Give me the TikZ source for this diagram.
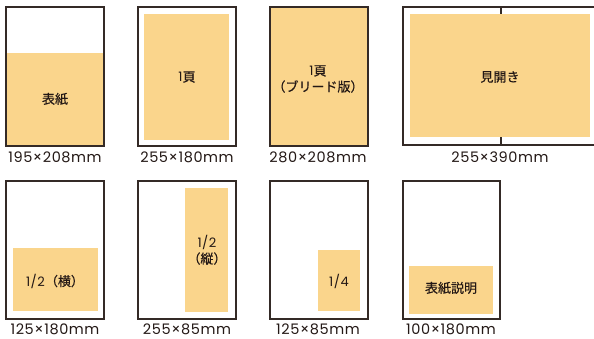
\documentclass[tikz,border=0pt]{standalone}
\usepackage{fontspec}
\newfontfamily\jpfont[FakeBold=0.4]{Noto Sans CJK JP}
\newfontfamily\numfont[LetterSpace=4]{Poppins}
\definecolor{pagefill}{HTML}{FAD58C}
\definecolor{pageline}{HTML}{342A26}
\definecolor{inktext}{HTML}{231815}

\begin{document}
\begin{tikzpicture}[x=1pt,y=-1pt,
	page/.style={draw=pageline,line width=1.1pt},
	area/.style={fill=pagefill},
	sizelbl/.style={font=\numfont\fontsize{14.5}{14.5}\selectfont,text=inktext},
	arealbl/.style={font=\jpfont\fontsize{13}{16}\selectfont,text=inktext,align=center}]
	\useasboundingbox (0,0) rectangle (594,338);
	% upper row
	\fill[area] (6,53) rectangle (104,146);
	\draw[page] (6,7) rectangle (104,146);
	\node[arealbl] (cover) at (55,99) {表紙};
	\node[sizelbl] (coversize) at (55,157) {195×208mm};

	\fill[area] (144,14) rectangle (229,140);
	\draw[page] (138,7) rectangle (236,146);
	\node[arealbl] (fullpage) at (187,77) {{\numfont 1}頁};
	\node[sizelbl] (fullpagesize) at (187,157) {255×180mm};

	\fill[area] (270,7) rectangle (368,146);
	\draw[page] (270,7) rectangle (368,146);
	\node[arealbl] (bleed) at (318,79) {{\numfont 1}頁\\（ブリード版）};
	\node[sizelbl] (bleedsize) at (318,157) {280×208mm};

	\draw[page] (594,7) -- (403,7) -- (403,145) -- (594,145);
	\draw[page] (501,7) -- (501,145);
	\fill[area] (410,14) rectangle (590,137);
	\node[arealbl] (spread) at (500,77) {見開き};
	\node[sizelbl] (spreadsize) at (500,157) {255×390mm};
	% lower row
	\fill[area] (13,248) rectangle (98,311);
	\draw[page] (6,181) rectangle (104,319);
	\node[arealbl] (halfwide) at (55,281) {{\numfont 1/2}（横）};
	\node[sizelbl] (halfwidesize) at (55,329) {125×180mm};

	\fill[area] (185,188) rectangle (228,312);
	\draw[page] (138,181) rectangle (236,319);
	\node[arealbl] (halftall) at (207,250) {{\numfont 1/2}\\（縦）};
	\node[sizelbl] (halftallsize) at (187,329) {255×85mm};

	\fill[area] (318,250) rectangle (360,311);
	\draw[page] (270,181) rectangle (368,319);
	\node[arealbl] (quarter) at (339,281) {{\numfont 1/4}};
	\node[sizelbl] (quartersize) at (318,329) {125×85mm};

	\fill[area] (409,266) rectangle (493,314);
	\draw[page] (403,181) rectangle (500,319);
	\node[arealbl] (coverinfo) at (451,288) {表紙説明};
	\node[sizelbl] (coverinfosize) at (451,329) {100×180mm};
\end{tikzpicture}
\end{document}
